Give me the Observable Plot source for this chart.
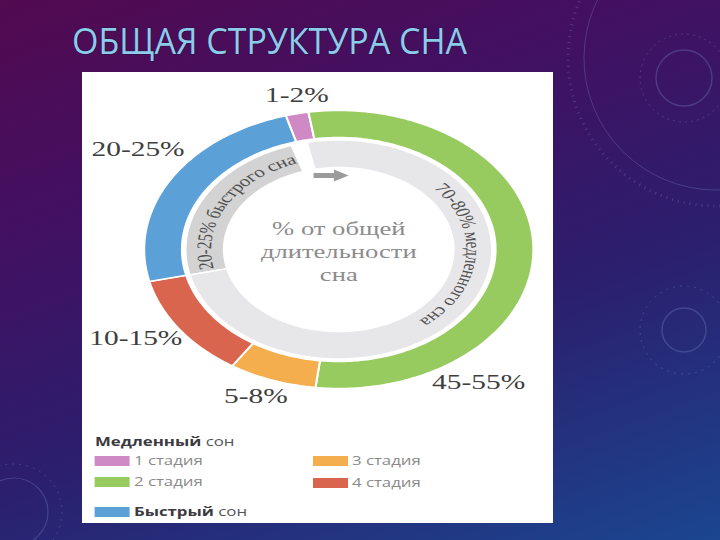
<!DOCTYPE html>
<html>
<head>
<meta charset="utf-8">
<script src="https://cdn.jsdelivr.net/npm/d3@7"></script>
<script src="https://cdn.jsdelivr.net/npm/@observablehq/plot@0.6"></script>
<style>
  html, body { margin: 0; padding: 0; }
  body {
    width: 720px; height: 540px; overflow: hidden; position: relative;
    background: linear-gradient(160deg, #520a50 0%, #421062 30%, #2b1f6e 62%, #1b4690 100%);
    font-family: "Open Sans", sans-serif;
  }
  #deco, #title { position: absolute; left: 0; top: 0; }
  #panel { position: absolute; left: 82px; top: 72px; width: 471px; height: 451px; background: #fff; overflow: hidden; }
  #inner { position: absolute; left: 0; top: 0; width: 336.4px; height: 451px; transform: scaleX(1.4); transform-origin: 0 0; }
  #chart { position: absolute; left: 0; top: 0; }
  .lg { position: absolute; white-space: nowrap; font-size: 12px; line-height: 14px; color: #8a8a8a; font-family: "Open Sans", sans-serif; }
  .lg b { color: #3a3a40; font-weight: 700; }
  .lg span { color: #555; }
  .sw { position: absolute; width: 24.5px; height: 10px; }
</style>
</head>
<body>
<svg id="deco" width="720" height="540">
  <g fill="none" stroke="rgba(160,180,235,0.22)">
    <circle cx="684" cy="78" r="28" stroke-width="1.5"/>
    <circle cx="684" cy="78" r="44" stroke-dasharray="2 4" stroke-width="1"/>
    <circle cx="716" cy="58" r="132" stroke-width="1"/>
    <circle cx="716" cy="58" r="148" stroke-dasharray="1 5" stroke-width="3"/>
    <circle cx="684" cy="330" r="22" stroke-width="1.5"/>
    <circle cx="684" cy="330" r="44" stroke-dasharray="2 5" stroke-width="1"/>
    <circle cx="14" cy="512" r="34" stroke-width="1.2"/>
    <circle cx="14" cy="512" r="48" stroke-dasharray="2 5" stroke-width="1"/>
  </g>
</svg>
<svg id="title" width="720" height="72">
  <text id="titleText" x="72" y="54" textLength="395" lengthAdjust="spacingAndGlyphs"
        font-family="'Open Sans', sans-serif" font-size="37" fill="#8ecbea"
        stroke="#2a1046" stroke-width="1.2" paint-order="stroke"></text>
</svg>
<div id="panel"><div id="inner"><div id="chart"></div></div></div>
<script>
// ---------- data ----------
const titleText = "ОБЩАЯ СТРУКТУРА СНА";
const stages = ["1 стадия", "2 стадия", "3 стадия", "4 стадия", "Быстрый сон"];
const shares = [1.9, 54.4, 7.3, 12.1, 24.3];          // % of ring, clockwise
const ranges = ["1-2%", "45-55%", "5-8%", "10-15%", "20-25%"];
const colors = ["#cf8ac6", "#97cb5f", "#f4ae4d", "#d9654f", "#5ba0d7"];
const innerNames = ["REM", "gap", "NREM"];
const innerShares = [23.75, 1.65, 74.6];
const innerTexts = ["20-25% быстрого сна", "", "70-80% медленного сна"];
const innerColors = ["#d3d3d3", "#ffffff", "#e7e7e9"];
const centerLines = ["% от общей", "длительности", "сна"];
const groupTitles = ["Медленный", "Быстрый"];
const groupWord = "сон";

// ---------- layout ----------
const W = 336, H = 345, CX = 182.9, CY = 177;
const START = -15.8, INNER_START = 256.5;
const OUTER_R = [112, 139], INNER_R = [82, 109.5], TEXT_R = 96;
const labelPlace = [[-11, 157], [143, 166], [202, 158], [238.5, 170], [305, 175]]; // angle, radius
const textSpans = [[299.5, 83], null, [94.5, 93]];   // mid angle, span
const rad = Math.PI / 180;

document.getElementById("titleText").textContent = titleText;

function arcPoly(name, a0, a1, r0, r1) {
  const pts = [];
  const n = Math.max(2, Math.ceil(Math.abs(a1 - a0)));
  for (let i = 0; i <= n; i++) { const a = (a0 + (a1 - a0) * i / n) * rad; pts.push({name, x: r1 * Math.sin(a), y: r1 * Math.cos(a)}); }
  for (let i = n; i >= 0; i--) { const a = (a0 + (a1 - a0) * i / n) * rad; pts.push({name, x: r0 * Math.sin(a), y: r0 * Math.cos(a)}); }
  return pts;
}

let acc = START;
const outerPts = [];
stages.forEach((s, i) => { const a1 = acc + shares[i] * 3.6; outerPts.push(...arcPoly(s, acc, a1, OUTER_R[0], OUTER_R[1])); acc = a1; });
acc = INNER_START;
const innerPts = [];
innerNames.forEach((s, i) => { const a1 = acc + innerShares[i] * 3.6; if (s !== "gap") innerPts.push(...arcPoly(s, acc, a1, INNER_R[0], INNER_R[1])); acc = a1; });

const ctx = document.createElement("canvas").getContext("2d");
const ringFont = "15px 'Liberation Serif'";
function arcText(str, mid, span, r) {
  ctx.font = ringFont;
  const chars = [...str];
  const ws = chars.map(c => ctx.measureText(c).width);
  const spanPx = span * rad * r;
  const extra = (spanPx - d3.sum(ws)) / (chars.length - 1);
  let s = -spanPx / 2;
  return chars.map((c, i) => {
    const cpos = s + ws[i] / 2; s += ws[i] + extra;
    const a = mid + cpos / r / rad;
    return {c, x: r * Math.sin(a * rad), y: r * Math.cos(a * rad), rot: a};
  });
}
const ringChars = [];
innerTexts.forEach((t, i) => { if (t) ringChars.push(...arcText(t, textSpans[i][0], textSpans[i][1], TEXT_R)); });

const labels = ranges.map((t, i) => ({t, x: labelPlace[i][1] * Math.sin(labelPlace[i][0] * rad), y: labelPlace[i][1] * Math.cos(labelPlace[i][0] * rad)}));

const chart = Plot.plot({
  width: W, height: H, margin: 0,
  x: {domain: [-CX, W - CX], axis: null},
  y: {domain: [-(H - CY), CY], axis: null},
  color: {domain: [...stages, ...innerNames], range: [...colors, ...innerColors]},
  marks: [
    Plot.line(outerPts, {x: "x", y: "y", z: "name", fill: "name", stroke: "white", strokeWidth: 1.5, curve: "linear-closed"}),
    Plot.line(innerPts, {x: "x", y: "y", z: "name", fill: "name", stroke: "white", strokeWidth: 1.5, curve: "linear-closed"}),
    Plot.text(ringChars, {x: "x", y: "y", text: "c", rotate: "rot", fontSize: 15, fontFamily: "Liberation Serif", fill: "#505050"}),
    Plot.text([{t: centerLines.join("\n"), x: 0, y: -1}], {x: "x", y: "y", text: "t", fontSize: 19, lineHeight: 1.2, fontFamily: "Liberation Serif", fill: "#8c8c8c"}),
    Plot.text(labels, {x: "x", y: "y", text: "t", fontSize: 21, fontFamily: "Liberation Serif", fill: "#3e3e3e"}),
    Plot.link([{x1: -18, x2: -3, y: 74}], {x1: "x1", x2: "x2", y1: "y", y2: "y", stroke: "#9b9b9b", strokeWidth: 5}),
    Plot.dot([{x: 0, y: 74}], {x: "x", y: "y", symbol: "triangle", r: 4.5, rotate: 90, fill: "#9b9b9b", stroke: "none"})
  ]
});
document.getElementById("chart").append(chart);

// ---------- legend ----------
const inner = document.getElementById("inner");
const legendSlots = [[9.3, 389], [9.3, 410], [165, 388.5], [165, 411], [9.3, 440]]; // left, center y
function addText(html, left, cy) {
  const d = document.createElement("div");
  d.className = "lg"; d.innerHTML = html;
  d.style.left = left + "px"; d.style.top = (cy - 7) + "px";
  inner.append(d);
}
addText(`<b>${groupTitles[0]}</b> <span>${groupWord}</span>`, 9.3, 370);
stages.forEach((s, i) => {
  const [l, cy] = legendSlots[i];
  const sw = document.createElement("div");
  sw.className = "sw"; sw.style.background = colors[i];
  sw.style.left = l + "px"; sw.style.top = (cy - 5) + "px";
  inner.append(sw);
  const txt = s === "Быстрый сон" ? `<b>${groupTitles[1]}</b> <span>${groupWord}</span>` : s;
  addText(txt, l + 27.8, cy);
});
</script>
</body>
</html>
